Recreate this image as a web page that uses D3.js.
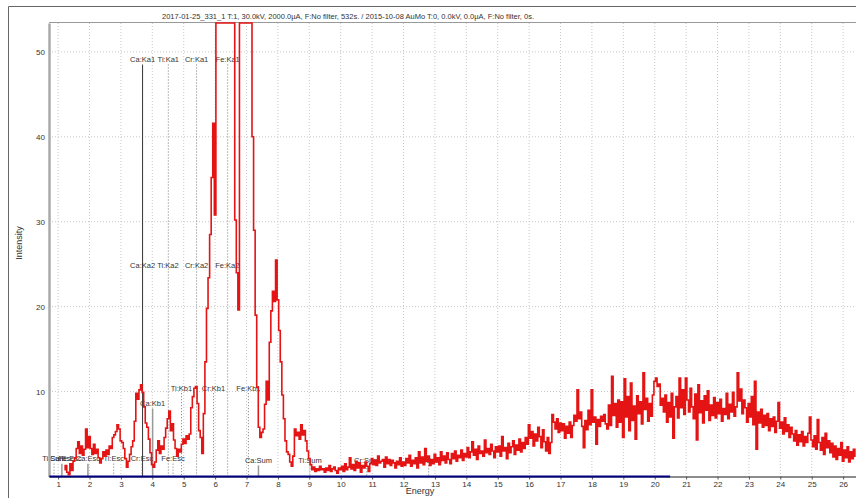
<!DOCTYPE html>
<html><head><meta charset="utf-8">
<script src="https://cdn.jsdelivr.net/npm/d3@7"></script>
<style>
body{margin:0;background:#fff}
svg{display:block}
text{font-family:"Liberation Sans",Arial,sans-serif;fill:#333}
</style>
</head><body>
<svg id="c" width="856" height="498"></svg>
<script>
// ---------------- data ----------------
const titleText = "2017-01-25_331_1  T:1, 30.0kV, 2000.0µA, F:No filter, 532s. / 2015-10-08 AuMo  T:0, 0.0kV, 0.0µA, F:No filter, 0s.";
const xTickValues = [1,2,3,4,5,6,7,8,9,10,11,12,13,14,15,16,17,18,19,20,21,22,23,24,25,26];
const yTickValues = [10,20,30,40,50];
const xLabel = "Energy";
const yLabel = "Intensity";

// measured spectrum (2017-01-25_331_1): channel energies start + i*step (keV)
const spectrumStart = 1.20;
const spectrumStep = 0.05;
const spectrumCounts = [
  0.8,1.3,0.5,0.2,1.5,0.7,1.8,2.2,3.3,4.1,2.7,3.6,2.5,3.2,5.6,3.4,4.7,
  3.3,2.6,3.8,2.7,3.2,2.2,1.6,2.1,2.9,2.4,3.1,2.6,3.6,3.3,4.6,4.9,5.3,6.1,5.6,4.2,
  4.0,3.3,2.1,1.1,1.8,2.6,3.5,4.2,6.5,9.8,9.1,10.2,10.8,9.9,8.2,6.3,5.8,4.4,2.8,1.4,
  1.1,1.7,3.1,4.2,2.7,3.6,3.2,4.6,5.7,6.8,7.7,5.4,6.2,4.3,3.3,2.4,3.2,2.9,3.8,4.4,
  3.9,4.8,4.4,5.0,8.1,9.4,10.4,10.6,8.6,5.4,4.6,2.7,7.4,13.5,19.8,23.4,28.5,35.2,41.6,30.8,
  62,78,95,108,118,124,126,122,110,95,80,64,30.2,24.0,19.6,58,72,85,90,86,
  74,62,55,40,29,19,10.5,5.8,4.6,5.2,5.6,8.5,11.2,9.0,15.8,19.5,21.8,20.6,25.5,20.8,
  17.2,13.5,9.6,6.8,4.2,2.9,2.6,1.7,1.2,2.4,5.6,4.8,5.2,4.4,6.1,4.9,5.4,4.2,3.0,2.1,
  1.4,0.8,1.1,0.6,0.9,0.7,1.2,0.8,0.9,0.5,1.0,0.7,1.3,0.6,0.9,1.1,0.7,0.4,1.0,0.8,
  1.2,0.6,1.5,0.8,1.1,2.2,0.9,1.4,0.7,1.8,1.0,1.6,0.5,1.3,1.0,1.7,1.2,0.6,1.5,2.1,
  1.4,1.9,1.3,2.4,1.6,1.8,2.0,1.1,2.3,1.5,2.0,1.3,1.9,1.6,1.0,1.8,1.4,2.2,1.2,1.7,
  1.3,2.1,1.6,2.5,1.2,1.9,1.5,2.2,1.0,2.9,1.6,2.3,1.4,3.3,1.8,2.4,1.3,2.0,1.5,2.6,
  1.7,2.2,1.4,2.9,1.9,2.4,1.6,2.8,2.0,1.5,2.7,2.1,3.0,1.8,2.5,2.2,3.1,1.9,2.7,2.3,
  3.4,2.2,2.9,4.1,2.5,3.2,2.0,3.6,2.7,3.0,2.4,4.3,2.8,3.3,2.6,3.8,3.0,2.2,3.5,2.9,
  3.6,2.4,4.7,3.0,3.4,2.1,3.9,2.8,3.5,4.2,2.6,3.7,3.1,4.4,2.9,4.0,3.3,4.6,3.8,6.1,
  4.5,5.3,3.6,5.0,4.2,5.8,4.7,3.4,5.5,4.1,3.0,4.6,2.7,4.0,7.3,6.4,5.6,6.8,5.2,6.3,
  5.4,6.2,4.5,5.9,5.1,6.4,4.6,6.0,7.2,6.5,10.2,6.8,7.6,5.9,3.4,6.6,5.5,7.8,6.1,10.2,
  6.4,7.0,3.8,6.7,5.9,7.1,6.5,7.3,6.2,5.6,8.4,6.0,11.8,7.2,8.6,5.8,9.0,6.4,8.8,4.6,
  11.5,7.0,9.4,5.4,11.0,6.6,8.3,4.4,9.5,7.4,8.8,6.2,12.2,7.9,9.2,6.5,8.6,7.1,9.6,11.2,
  11.6,10.6,10.9,8.4,9.2,7.6,9.6,6.4,8.7,7.0,9.8,4.5,8.2,9.4,6.9,11.6,8.1,10.2,7.3,11.6,
  9.0,7.6,10.4,8.2,6.8,9.7,4.3,10.8,7.5,8.9,6.3,9.5,7.8,10.1,6.6,8.4,7.2,9.3,6.9,8.7,
  7.4,9.1,6.5,8.0,7.3,9.8,6.8,8.5,7.6,9.9,7.1,8.2,12.2,8.9,10.3,7.4,9.0,8.1,6.4,8.6,
  7.0,9.4,6.1,11.2,3.2,7.6,6.3,7.9,5.8,7.2,6.0,7.4,5.4,6.8,5.9,7.0,5.2,6.5,8.7,5.7,
  6.4,5.0,6.9,5.3,6.1,4.6,5.8,5.0,4.2,5.4,3.7,4.9,4.1,5.3,3.6,4.7,4.0,5.1,7.0,4.3,
  3.5,4.8,3.2,6.7,4.0,3.1,4.6,2.6,5.1,3.4,4.2,2.8,3.9,2.3,3.6,2.0,3.3,2.5,4.0,1.8,
  3.1,2.2,3.5,1.7,2.9,2.1,3.2,2.4
];

// reference spectrum (2015-10-08 AuMo, 0 s) – flat zero
const referenceEnergies = [0.72, 20.49];
const referenceCounts = [0, 0];

// peak markers
const markerLabels   = ["Ca:Ka1","Ti:Ka1","Cr:Ka1","Fe:Ka1","Ca:Ka2","Ti:Ka2","Cr:Ka2","Fe:Ka2",
                        "Ca:Kb1","Ti:Kb1","Cr:Kb1","Fe:Kb1","Ca:Sum","Ti:Sum","Cr:Sum","Fe:Sum",
                        "Ca:Esc","Ti:Esc","Cr:Esc","Fe:Esc","Ti:Sum","Ca:Esc","Fe:Esc"];
const markerEnergies = [3.69,4.51,5.41,6.40,3.69,4.50,5.41,6.39,
                        4.01,4.93,5.95,7.06,7.38,9.02,10.83,12.80,
                        1.95,2.77,3.67,4.66,0.87,1.12,1.38];
const markerLevels   = [49.1,49.1,49.1,49.1,24.9,24.9,24.9,24.9,
                        8.6,10.4,10.4,10.4,1.9,1.9,1.9,1.9,
                        2.1,2.1,2.1,2.1,2.1,2.1,2.1];

// ---------------- chart ----------------
const svg = d3.select("#c");
const plot = {left:49, right:856, top:23, bottom:476.5};
const x = d3.scaleLinear().domain([0.71, 26.41]).range([plot.left, plot.right]);
const y = d3.scaleLinear().domain([0, 53.4]).range([plot.bottom, plot.top]).clamp(true);

// outer frame
svg.append("path").attr("d","M8.5,498 V6.5 H856").attr("fill","none").attr("stroke","#666").attr("stroke-width",1);

// title
svg.append("text").attr("x",348).attr("y",19).attr("text-anchor","middle")
  .attr("font-size",8).attr("textLength",372).attr("lengthAdjust","spacingAndGlyphs").text(titleText);

// grid
const grid = svg.append("g");
grid.selectAll("line.v").data(xTickValues).join("line").attr("class","v")
  .attr("x1",d=>x(d)).attr("x2",d=>x(d)).attr("y1",plot.top).attr("y2",plot.bottom)
  .attr("stroke","#c8c8c8").attr("stroke-dasharray","1,2");
grid.selectAll("line.h").data(yTickValues).join("line").attr("class","h")
  .attr("x1",plot.left).attr("x2",plot.right).attr("y1",d=>y(d)).attr("y2",d=>y(d))
  .attr("stroke","#c8c8c8").attr("stroke-dasharray","1,2");

// top border
svg.append("line").attr("x1",plot.left).attr("x2",plot.right).attr("y1",plot.top-0.5).attr("y2",plot.top-0.5)
  .attr("stroke","#999");

// markers
const markers = markerLabels.map((l,i)=>({label:l, e:markerEnergies[i], lev:markerLevels[i],
  el:l.split(":")[0], kind:l.split(":")[1]}));
const mg = svg.append("g");
markers.forEach(m=>{
  if (m.kind !== "Ka2") {
    const solid = m.el === "Ca";
    const dark = solid && m.kind === "Ka1";
    mg.append("line").attr("x1",x(m.e)).attr("x2",x(m.e))
      .attr("y1",y(m.lev)+5).attr("y2",plot.bottom)
      .attr("stroke", dark ? "#333" : (solid ? "#999" : "#777"))
      .attr("stroke-width", dark ? 1 : (solid ? 1.5 : 1))
      .attr("stroke-dasharray", solid ? null : "1,2");
  }
  mg.append("text").attr("x",x(m.e)).attr("y",y(m.lev)).attr("dy","0.35em")
    .attr("text-anchor","middle").attr("font-size",7.5).attr("fill","#222").text(m.label);
});

// x axis
const xAxis = d3.axisBottom(x).tickValues(xTickValues).tickSize(3).tickSizeOuter(0).tickPadding(2);
const gx = svg.append("g").attr("transform",`translate(0,${plot.bottom})`).call(xAxis);
gx.select(".domain").attr("stroke","#666").attr("stroke-width",1.5);
gx.selectAll(".tick line").attr("stroke","#555");
gx.selectAll(".tick text").attr("font-size",8).attr("fill","#333").style("font-family","Liberation Sans, Arial");

// y axis
const yAxis = d3.axisLeft(y).tickValues(yTickValues).tickSize(0).tickPadding(4);
const gy = svg.append("g").attr("transform",`translate(${plot.left},0)`).call(yAxis);
gy.select(".domain").attr("stroke","#aaa").attr("stroke-width",2.5);
gy.selectAll(".tick text").attr("font-size",8).attr("fill","#444").style("font-family","Liberation Sans, Arial");

// reference zero series (navy)
const refData = referenceEnergies.map((e,i)=>[e, referenceCounts[i]]);
svg.append("path").datum(refData)
  .attr("d", d3.line().x(d=>x(d[0])).y(d=>y(d[1])))
  .attr("stroke","#000080").attr("stroke-width",2).attr("fill","none");

// spectrum
const specData = spectrumCounts.map((c,i)=>[spectrumStart + i*spectrumStep, c]);
svg.append("path").datum(specData)
  .attr("d", d3.line().x(d=>x(d[0])).y(d=>y(d[1])).curve(d3.curveStep))
  .attr("stroke","#e41414").attr("stroke-width",1.6).attr("fill","none")
  .attr("stroke-linejoin","miter");

// axis titles
svg.append("text").attr("transform","translate(22,243) rotate(-90)").attr("text-anchor","middle")
  .attr("font-size",9).attr("fill","#444").text(yLabel);
svg.append("text").attr("x",420).attr("y",494).attr("text-anchor","middle")
  .attr("font-size",9).attr("fill","#444").text(xLabel);
</script>
</body></html>
